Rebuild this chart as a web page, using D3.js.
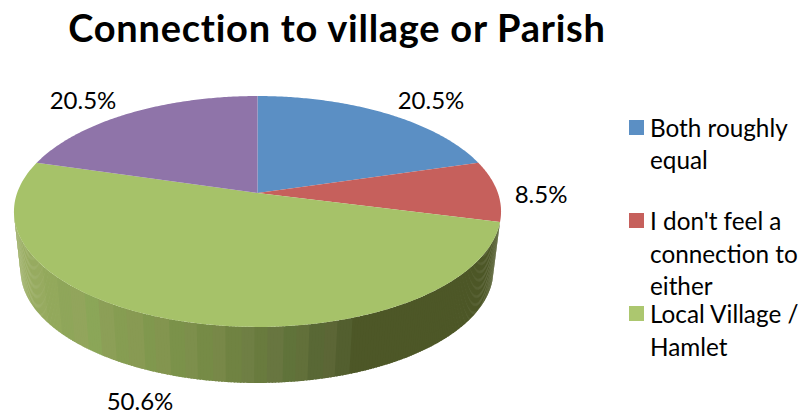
<!DOCTYPE html>
<html><head><meta charset="utf-8">
<script src="https://cdn.jsdelivr.net/npm/d3@7"></script>
<style>html,body{margin:0;background:#fff}svg{display:block}text{font-family:Lato,"Noto Sans",sans-serif;fill:#000}</style>
</head><body><svg id="c" width="803" height="412"></svg>
<script>
const title = "Connection to village or Parish";
const categories = ["Both roughly equal","I don't feel a connection to either","Local Village / Hamlet","Unlabelled"];
const values = [20.5, 8.5, 50.6, 20.5];
const valueLabels = ["20.5%","8.5%","50.6%","20.5%"];
const colors = ["#5b8fc4","#c6605c","#a6c269","#8f74a9"];
const legendLines = [["Both roughly","equal"],["I don't feel a","connection to","either"],["Local Village /","Hamlet"]];
// shading bands of the side wall, read left to right
const wallBands = ["#9aad63","#97ab60","#93a95c","#8fa65a","#92a55c","#8ba658","#8c9f57","#869d52","#889a53","#80984e","#83954f","#7b924a","#7d8f4c","#768b46","#788848","#708342","#6f7f44","#697b3e","#687640","#60733a","#62703a","#596835","#5c6636","#535f2f"];
const wallDark = "#4d5727";

const svg = d3.select("#c");
const top_ = {x:257.5,y:193,a:240.4,b:112.5,p:0.16};
const bot_ = {x:257,y:252,a:233.4,b:110,p:0.16};
const proj = (o,t)=>{const u=Math.sin(t),v=-Math.cos(t),s=1/(1-o.p*v);return [o.x+o.a*u*s,o.y+o.b*v*s];};
const pieGen = d3.pie().sort(null).value(d=>d).startAngle(0).endAngle(2*Math.PI);
const arcs = pieGen(values);
const line = d3.line();

// side wall of the green slice
const gs = arcs[2];
const wallEnd = 2*Math.PI-Math.acos(-top_.p);
const wallA = d3.scaleLinear().domain([0,1]).range([gs.startAngle,wallEnd]);
const bandColor = d3.scaleQuantize().domain([14,352]).range(wallBands);
const n=240;
d3.range(n).forEach(i=>{
  const t0=wallA(i/n),t1=wallA((i+1.5)/n>1?1:(i+1.5)/n);
  const steps=d3.range(3).map(k=>t0+(t1-t0)*k/2);
  const pts=[...steps.map(t=>proj(top_,t)),...steps.slice().reverse().map(t=>proj(bot_,t))];
  const mx=proj(top_,(t0+t1)/2)[0];
  svg.append("path").attr("d",line(pts)+"Z").attr("fill",mx>352?wallDark:bandColor(mx));
});

// top face
arcs.forEach((d,i)=>{
  const steps=d3.range(121).map(k=>d.startAngle+(d.endAngle-d.startAngle)*k/120);
  svg.append("path").attr("d",line([[top_.x,top_.y],...steps.map(t=>proj(top_,t))])+"Z").attr("fill",colors[i]);
});

svg.append("text").attr("x",337).attr("y",42).attr("text-anchor","middle").attr("font-weight",700).attr("font-size",38).attr("letter-spacing",0.75).text(title);

const labelPos=[[431,108.5],[541,202.5],[140,410],[83,108.5]];
valueLabels.forEach((t,i)=>svg.append("text").attr("x",labelPos[i][0]).attr("y",labelPos[i][1]).attr("text-anchor","middle").attr("font-size",24).text(t));

const legendY=[120,213,306];
const legendBase=[[137,169],[230,263,295],[323,356]];
legendLines.forEach((ls,i)=>{
  svg.append("rect").attr("x",629).attr("y",legendY[i]).attr("width",15).attr("height",15).attr("fill",i==2?"#acc76f":colors[i]);
  ls.forEach((s,j)=>svg.append("text").attr("x",650).attr("y",legendBase[i][j]).attr("font-size",24.3).text(s));
});
</script></body></html>
